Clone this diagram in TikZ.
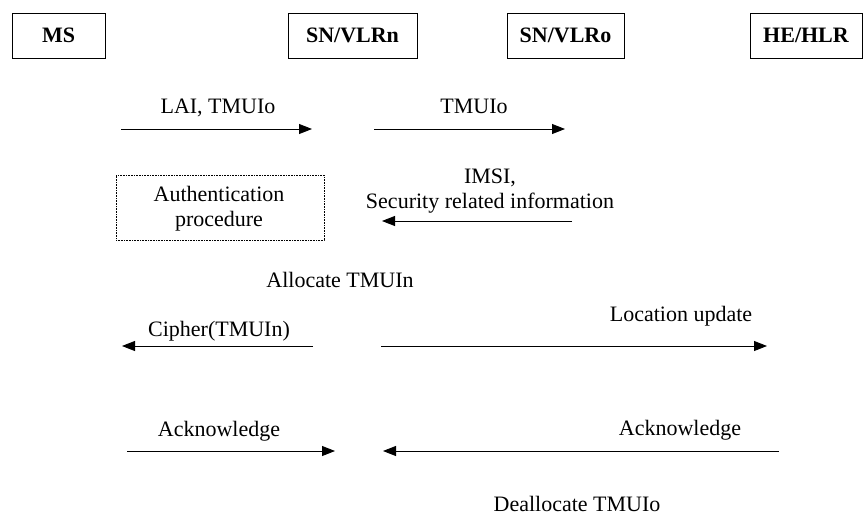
\documentclass[tikz,border=0pt]{standalone}
\usepackage{fontspec}
\setmainfont{Liberation Serif}
\usetikzlibrary{arrows.meta}
\begin{document}
\begin{tikzpicture}[x=1pt,y=-1pt,
  entity/.style={draw,line width=0.9pt,inner sep=0pt,font=\fontsize{22}{25}\selectfont\bfseries},
  lbl/.style={anchor=base,inner sep=0pt,font=\fontsize{22}{25}\selectfont},
  msg/.style={line width=0.9pt,-{Triangle[length=13pt,width=10pt]}},
  proc/.style={draw,densely dotted,line width=0.6pt,inner sep=0pt}]
\useasboundingbox (0,0) rectangle (864,517);
% entities
\node[entity,minimum width=93pt,minimum height=45pt] (ms) at (58.5,35.5) {MS};
\node[entity,minimum width=129pt,minimum height=45pt] (vlrn) at (352.5,35.5) {SN/VLRn};
\node[entity,minimum width=117pt,minimum height=45pt] (vlro) at (565.5,35.5) {SN/VLRo};
\node[entity,minimum width=112pt,minimum height=45pt] (hlr) at (806,35.5) {HE/HLR};
% arrow end points
\coordinate (a1s) at (121,129); \coordinate (a1e) at (312,129);
\coordinate (a2s) at (374,129); \coordinate (a2e) at (565,129);
\coordinate (a3s) at (572,221); \coordinate (a3e) at (382,221);
\coordinate (a4s) at (313,346); \coordinate (a4e) at (122,346);
\coordinate (a5s) at (381,346); \coordinate (a5e) at (767,346);
\coordinate (a6s) at (127,451); \coordinate (a6e) at (335,451);
\coordinate (a7s) at (779,451); \coordinate (a7e) at (383,451);
% messages
\draw[msg] (a1s) -- (a1e);
\draw[msg] (a2s) -- (a2e);
\draw[msg] (a3s) -- (a3e);
\draw[msg] (a4s) -- (a4e);
\draw[msg] (a5s) -- (a5e);
\draw[msg] (a6s) -- (a6e);
\draw[msg] (a7s) -- (a7e);
% labels
\node[lbl] (l1) at (218,113) {LAI, TMUIo};
\node[lbl] (l2) at (474,113) {TMUIo};
\node[lbl] (l3a) at (490,183) {IMSI,};
\node[lbl] (l3b) at (490,208) {Security related information};
\node[proc,minimum width=208pt,minimum height=65pt] (auth) at (220,207.5) {};
\node[lbl] (au1) at (219,201) {Authentication};
\node[lbl] (au2) at (219,226) {procedure};
\node[lbl] (alloc) at (340,287) {Allocate TMUIn};
\node[lbl] (l4) at (219,336) {Cipher(TMUIn)};
\node[lbl] (l5) at (681,321) {Location update};
\node[lbl] (l6) at (219,436) {Acknowledge};
\node[lbl] (l7) at (680,435) {Acknowledge};
\node[lbl] (dealloc) at (577,511) {Deallocate TMUIo};
\end{tikzpicture}
\end{document}
